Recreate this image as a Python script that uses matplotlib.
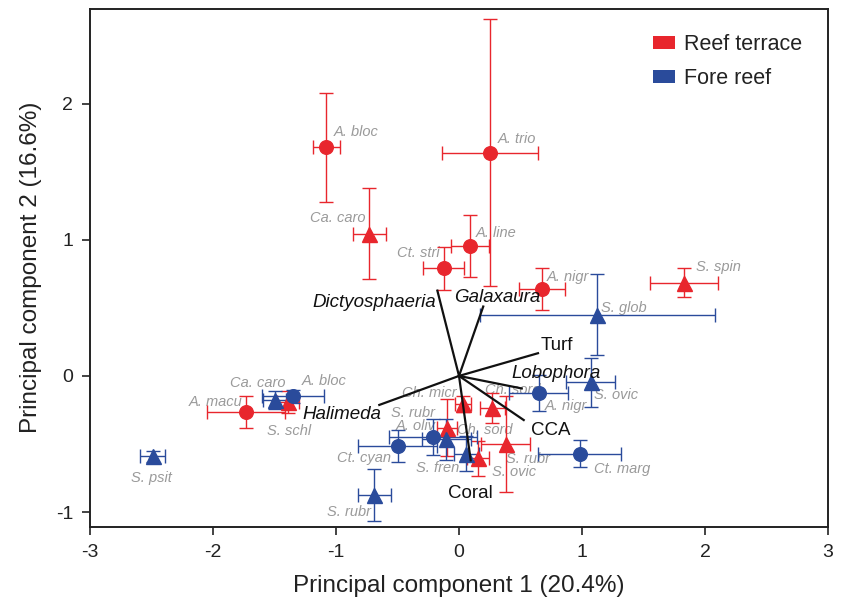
"""
PCA 双标图：鱼类摄食位置（礁坪 / 前礁）与底栖类群载荷
"""

import matplotlib
matplotlib.use('Agg')
import matplotlib.pyplot as plt
from matplotlib.patches import Patch

plt.rcParams['font.family'] = ['Liberation Sans', 'DejaVu Sans']
plt.rcParams['axes.unicode_minus'] = False

RED = '#E8262D'
BLUE = '#2A4B9B'
GREY = '#9A9A9A'

# 礁坪 (Reef terrace)
reef_names = ['A. bloc', 'A. trio', 'Ca. caro', 'A. line', 'Ct. stri', 'A. nigr', 'S. spin',
              'A. macu', 'S. schl', 'Ch. micr', 'Ch. sord', 'S. rubr', 'S. rubr', 'S. ovic']
reef_shape = ['circle', 'circle', 'triangle', 'circle', 'circle', 'circle', 'triangle',
              'circle', 'triangle', 'triangle', 'triangle', 'triangle', 'triangle', 'triangle']
reef_x = [-1.08, 0.25, -0.73, 0.09, -0.125, 0.675, 1.83, -1.73, -1.39, 0.03, 0.27, -0.095, 0.38, 0.155]
reef_y = [1.68, 1.64, 1.045, 0.955, 0.79, 0.64, 0.685, -0.265, -0.19, -0.205, -0.235, -0.38, -0.5, -0.605]
reef_xerr = [0.11, 0.39, 0.135, 0.155, 0.165, 0.19, 0.275, 0.315, 0.09, 0.065, 0.1, 0.08, 0.2, 0.09]
reef_yerr = [0.40, 0.98, 0.335, 0.23, 0.16, 0.155, 0.105, 0.12, 0.08, 0.06, 0.11, 0.21, 0.35, 0.13]

# 前礁 (Fore reef)
fore_names = ['S. psit', 'Ca. caro', 'A. bloc', 'Ct. cyan', 'S. rubr', 'A. oliv', 'Ch. sord',
              'S. fren', 'A. nigr', 'S. ovic', 'S. glob', 'Ct. marg']
fore_shape = ['triangle', 'triangle', 'circle', 'circle', 'triangle', 'circle', 'triangle',
              'triangle', 'circle', 'triangle', 'triangle', 'circle']
fore_x = [-2.49, -1.50, -1.35, -0.50, -0.69, -0.21, -0.105, 0.06, 0.65, 1.07, 1.125, 0.98]
fore_y = [-0.59, -0.175, -0.15, -0.515, -0.875, -0.45, -0.465, -0.57, -0.125, -0.046, 0.45, -0.57]
fore_xerr = [0.10, 0.09, 0.25, 0.32, 0.135, 0.36, 0.2, 0.1, 0.24, 0.2, 0.955, 0.34]
fore_yerr = [0.04, 0.065, 0.05, 0.115, 0.19, 0.13, 0.15, 0.13, 0.13, 0.18, 0.296, 0.10]

# 底栖类群载荷向量
vec_names = ['Dictyosphaeria', 'Galaxaura', 'Turf', 'Lobophora', 'CCA', 'Coral', 'Halimeda']
vec_italic = [True, True, False, True, False, False, True]
vec_x = [-0.176, 0.197, 0.642, 0.51, 0.526, 0.095, -0.648]
vec_y = [0.627, 0.51, 0.167, -0.092, -0.324, -0.62, -0.213]

# 标签偏移 (像素, 水平对齐)
reef_lab = [(8, 15, 'left'), (8, 14, 'left'), (-4, 16, 'right'), (6, 13, 'left'),
            (-4, 15, 'right'), (5, 12, 'left'), (12, 16, 'left'), (-4, 10, 'right'),
            (-21, -29, 'left'), (-6, 11, 'right'), (-7, 18, 'left'), (-56, 15, 'left'),
            (0, -15, 'left'), (14, -14, 'left')]
fore_lab = [(-1, -22, 'center'), (11, 17, 'right'), (9, 15, 'left'), (-7, -12, 'right'),
            (-3, -17, 'right'), (3, 11, 'right'), (11, 9, 'left'), (-7, -14, 'right'),
            (6, -13, 'left'), (3, -13, 'left'), (4, 7, 'left'), (14, -15, 'left')]
vec_lab = [(-1, -12, 'right'), (-29, 9, 'left'), (3, 8, 'left'), (-10, 15, 'left'),
           (7, -10, 'left'), (0, -33, 'center'), (2, -10, 'right')]

MARKERS = {'circle': ('o', 9.8), 'triangle': ('^', 10.8)}

fig = plt.figure(figsize=(8.43, 6.04), dpi=100)
ax = fig.add_axes([0.1068, 0.1275, 0.8754, 0.8584])


def draw_group(xs, ys, xe, ye, shapes, names, labs, color):
    for i in range(len(xs)):
        m, ms = MARKERS[shapes[i]]
        ax.errorbar(xs[i], ys[i], xerr=xe[i], yerr=ye[i], fmt=m, color=color,
                    markersize=ms, mec=color, elinewidth=1.0, capsize=5,
                    capthick=1.0, zorder=3)
        dx, dy, ha = labs[i]
        ax.annotate(names[i], (xs[i], ys[i]), xytext=(dx, dy), textcoords='offset pixels',
                    ha=ha, va='center', fontsize=10.5, style='italic', color=GREY, zorder=2)


draw_group(reef_x, reef_y, reef_xerr, reef_yerr, reef_shape, reef_names, reef_lab, RED)
draw_group(fore_x, fore_y, fore_xerr, fore_yerr, fore_shape, fore_names, fore_lab, BLUE)

# 载荷线
for i in range(len(vec_x)):
    ax.plot([0, vec_x[i]], [0, vec_y[i]], color='#111111', linewidth=1.6, zorder=5)
    dx, dy, ha = vec_lab[i]
    ax.annotate(vec_names[i], (vec_x[i], vec_y[i]), xytext=(dx, dy), textcoords='offset pixels',
                ha=ha, va='center', fontsize=13.5, color='#111111',
                style='italic' if vec_italic[i] else 'normal', zorder=6)

ax.set_xlim(-3, 3)
ax.set_ylim(-1.11, 2.70)
ax.set_xticks([-3, -2, -1, 0, 1, 2, 3])
ax.set_yticks([-1, 0, 1, 2])
ax.tick_params(direction='out', length=6, width=1.2, labelsize=14, colors='#222222', pad=6)
for s in ax.spines.values():
    s.set_linewidth(1.4)
    s.set_color('#222222')

ax.set_xlabel('Principal component 1 (20.4%)', fontsize=17.5, color='#222222', labelpad=10)
ax.set_ylabel('Principal component 2 (16.6%)', fontsize=17.5, color='#222222', labelpad=10)

handles = [Patch(facecolor=RED, edgecolor='none', label='Reef terrace'),
           Patch(facecolor=BLUE, edgecolor='none', label='Fore reef')]
ax.legend(handles=handles, loc='upper right', frameon=False, fontsize=15.5,
          handlelength=1.0, handleheight=0.56, handletextpad=0.45, labelspacing=0.61,
          borderaxespad=0.78, labelcolor='#222222')

plt.savefig('out.png', dpi=100)
plt.close()
